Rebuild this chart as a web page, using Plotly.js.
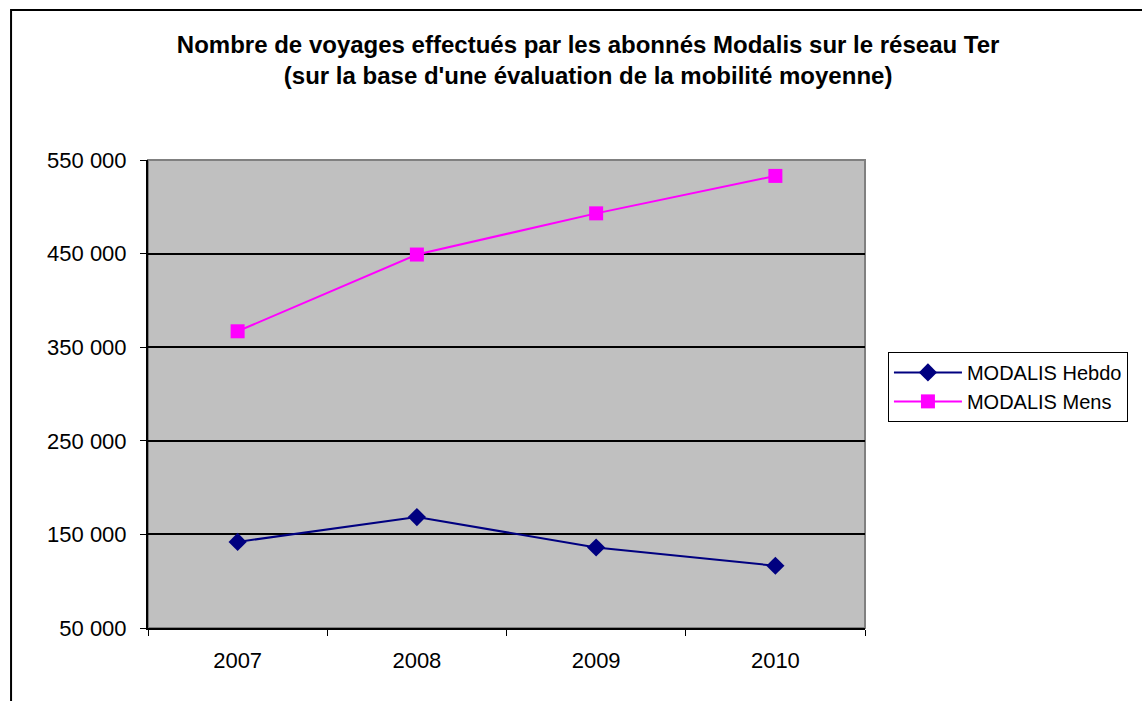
<!DOCTYPE html>
<html>
<head>
<meta charset="utf-8">
<script src="https://cdn.plot.ly/plotly-3.0.1.min.js"></script>
<style>
  html, body { margin: 0; padding: 0; background: #fff; }
  #chart { width: 1142px; height: 701px; }
</style>
</head>
<body>
<div id="chart"></div>
<script>
const years = ["2007", "2008", "2009", "2010"];
const hebdo = [142000, 168500, 136000, 116500];
const mens = [367000, 449000, 493000, 533000];
const seriesNames = ["MODALIS Hebdo", "MODALIS Mens"];
const yTicks = [50000, 150000, 250000, 350000, 450000, 550000];
const yTickText = ["50 000", "150 000", "250 000", "350 000", "450 000", "550 000"];

const traces = [
  {
    x: years, y: hebdo, name: seriesNames[0], type: "scatter", mode: "lines+markers",
    line: { color: "#000080", width: 2 },
    marker: { symbol: "diamond", size: 14, color: "#000080" }
  },
  {
    x: years, y: mens, name: seriesNames[1], type: "scatter", mode: "lines+markers",
    line: { color: "#FF00FF", width: 2 },
    marker: { symbol: "square", size: 14, color: "#FF00FF" }
  }
];

const layout = {
  width: 1142, height: 701,
  paper_bgcolor: "#ffffff",
  plot_bgcolor: "#C0C0C0",
  margin: { l: 148, r: 277, t: 160, b: 73 },
  font: { family: "Arial, 'Liberation Sans', sans-serif", color: "#000", size: 22 },
  title: {
    text: "Nombre de voyages effectués par les abonnés Modalis sur le réseau Ter<br>(sur la base d'une évaluation de la mobilité moyenne)",
    font: { size: 24, family: "Arial, 'Liberation Sans', sans-serif", weight: "bold", color: "#000" },
    x: 0.515, xref: "container", xanchor: "center",
    y: 0.925, yref: "container", yanchor: "top"
  },
  xaxis: {
    type: "category", range: [-0.5, 3.5],
    tickson: "boundaries", ticks: "outside", ticklen: 6, tickcolor: "#000", tickwidth: 1,
    ticklabelstandoff: 12,
    showgrid: false, showline: true, linecolor: "#000", linewidth: 2,
    tickfont: { size: 22 }, zeroline: false, fixedrange: true
  },
  yaxis: {
    range: [50000, 550000],
    tickmode: "array", tickvals: yTicks, ticktext: yTickText,
    ticks: "outside", ticklen: 6, tickcolor: "#000", tickwidth: 1,
    ticklabelstandoff: 9,
    showgrid: true, gridcolor: "#000", gridwidth: 2,
    showline: true, linecolor: "#000", linewidth: 2,
    tickfont: { size: 22 }, zeroline: false, fixedrange: true
  },
  showlegend: true,
  legend: {
    x: 1.032, xanchor: "left", y: 0.59, yanchor: "top",
    bordercolor: "#000", borderwidth: 1, bgcolor: "#fff",
    font: { size: 20 }, tracegroupgap: 0, itemwidth: 68
  },
  shapes: [
    { type: "rect", xref: "paper", yref: "paper", x0: 0, x1: 1, y0: 0, y1: 1,
      line: { color: "#808080", width: 2 }, layer: "below" },
    { type: "rect", xref: "paper", yref: "paper", x0: -0.191, x1: 1.45, y0: -0.2, y1: 1.3205,
      line: { color: "#000", width: 2 }, fillcolor: "rgba(0,0,0,0)", layer: "above" }
  ]
};

Plotly.newPlot("chart", traces, layout, { displayModeBar: false, staticPlot: true });
</script>
</body>
</html>
